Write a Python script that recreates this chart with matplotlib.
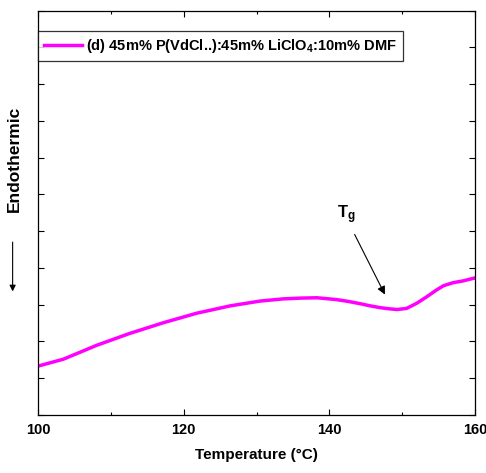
import numpy as np
import matplotlib.pyplot as plt
from matplotlib.patches import FancyArrowPatch
from matplotlib.ticker import MultipleLocator, NullFormatter

# DSC trace
temp = [100.0, 103.5, 108.1, 112.6, 117.2, 121.8, 126.4, 130.5, 133.7, 136.0,
        138.3, 141.0, 142.6, 144.2, 145.6, 147.0, 148.2, 149.3, 150.6, 152.0,
        153.4, 154.7, 155.7, 157.0, 158.4, 160.0]
heat_flow = [1.33, 1.52, 1.90, 2.22, 2.51, 2.77, 2.97, 3.10, 3.16, 3.18,
             3.19, 3.14, 3.09, 3.03, 2.97, 2.92, 2.89, 2.87, 2.90, 3.04,
             3.22, 3.40, 3.52, 3.60, 3.65, 3.73]

series_label = r"(d) 45m% P(VdCl..):45m% LiClO$_4$:10m% DMF"
tg_text_xy = (142.4, 5.45)
tg_arrow_head = (147.8, 3.21)
tg_arrow_tail = (143.3, 4.98)

plt.rcParams["font.family"] = ["Liberation Sans", "DejaVu Sans"]
plt.rcParams["font.weight"] = "bold"
plt.rcParams["mathtext.fontset"] = "custom"
plt.rcParams["mathtext.rm"] = "Liberation Sans:bold"
plt.rcParams["mathtext.it"] = "Liberation Sans:bold"
plt.rcParams["mathtext.default"] = "rm"

fig = plt.figure(figsize=(4.86, 4.73), dpi=100)
ax = fig.add_axes([0.0782, 0.1226, 0.8992, 0.8548])

ax.plot(temp, heat_flow, color="#ff00ff", linewidth=2.5, label=series_label,
        solid_joinstyle="round")

ax.set_xlim(100, 160)
ax.set_ylim(0, 11)
ax.xaxis.set_major_locator(MultipleLocator(20))
ax.xaxis.set_minor_locator(MultipleLocator(10))
ax.yaxis.set_major_locator(MultipleLocator(1))
ax.yaxis.set_major_formatter(NullFormatter())
ax.tick_params(which="both", direction="in", top=True, right=True, width=0.8)
ax.tick_params(which="major", length=4, labelsize=10.5, pad=6)
ax.tick_params(which="minor", length=2.5)
for lab in ax.get_xticklabels():
    lab.set_fontweight("bold")
for sp in ax.spines.values():
    sp.set_linewidth(0.9)

ax.set_xlabel("Temperature (°C)", fontsize=11, fontweight="bold", labelpad=8)

# Tg annotation
ax.annotate("", xy=tg_arrow_head, xytext=tg_arrow_tail,
            arrowprops=dict(arrowstyle="-|>", color="black", lw=0.8,
                            mutation_scale=12))
ax.text(tg_text_xy[0], tg_text_xy[1], r"T$_\mathregular{g}$", fontsize=12,
        fontweight="bold", ha="center", va="center")

leg = ax.legend(loc="upper left", bbox_to_anchor=(0.0, 0.95), fontsize=10.5,
                frameon=True, fancybox=False, edgecolor="black",
                borderpad=0.4, handlelength=2.6, handletextpad=0.3,
                borderaxespad=0.0)
leg.get_frame().set_linewidth(0.9)
for t in leg.get_texts():
    t.set_fontweight("bold")

# y label with downward arrow
fig.text(0.029, 0.665, "Endothermic", rotation=90, fontsize=12.5,
         fontweight="bold", ha="center", va="center")
fig.patches.append(FancyArrowPatch(
    (0.026, 0.494), (0.026, 0.378), transform=fig.transFigure,
    arrowstyle="-|>", mutation_scale=9, color="black", lw=0.8))

fig.savefig("out.png", dpi=100)
